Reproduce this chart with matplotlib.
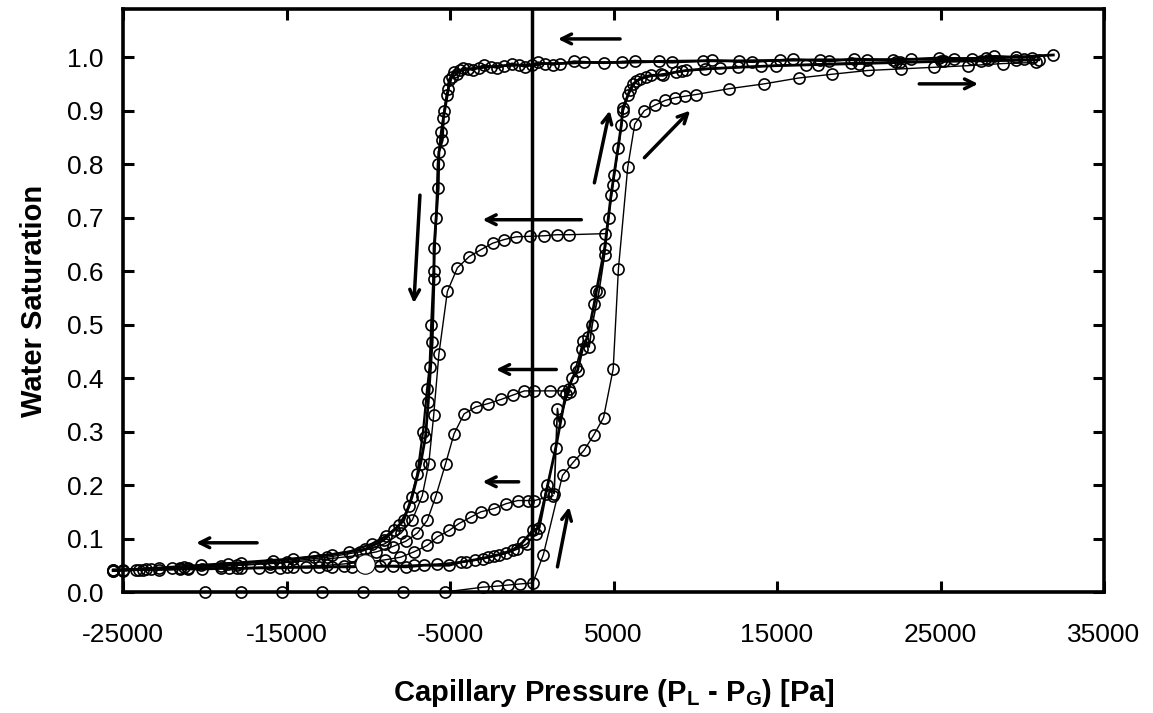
import matplotlib
matplotlib.use('Agg')
import matplotlib.pyplot as plt

plt.rcParams['font.family'] = ['Liberation Sans', 'DejaVu Sans']
plt.rcParams['mathtext.fontset'] = 'custom'
plt.rcParams['mathtext.bf'] = 'Liberation Sans:bold'
plt.rcParams['mathtext.rm'] = 'Liberation Sans'
plt.rcParams['axes.unicode_minus'] = False

#%% data
# primary imbibition, starting from the dry sample
x_imb0 = [-20000, -17800, -15300, -12800, -10300, -7900, -5300, -3000, -2100, -1450, -730, 70,
          710, 1880, 2550, 3200, 3780, 4390, 4980, 5300, 5870, 6300, 6890, 7520, 8160, 8750,
          9390, 10030, 12070, 14210, 16330, 18370, 20540, 22580, 24620, 26660, 28830, 30870]
y_imb0 = [0, 0, 0, 0, 0, 0, 0, 0.009, 0.011, 0.013, 0.015, 0.017,
          0.07, 0.218, 0.243, 0.265, 0.293, 0.326, 0.417, 0.604, 0.794, 0.875, 0.9, 0.91, 0.919, 0.924,
          0.927, 0.93, 0.941, 0.95, 0.961, 0.968, 0.975, 0.978, 0.981, 0.984, 0.988, 0.99]

# main drainage (two repeats)
x_dr1 = [31900, 29600, 27800, 25800, 23200, 20500, 17600, 15200, 12700, 10500, 7800, 5500, 3200,
         1700, 800, 0, -800, -1700, -2500, -3200, -3900, -4400, -4750, -5060, -5100, -5400, -5470,
         -5680, -5720, -5980, -5980, -6090, -6330, -6500, -6800, -7320, -7830, -8440, -9060, -10180,
         -12230, -14590, -17770, -20230, -22790, -25600]
y_dr1 = [1.004, 1.0, 0.998, 0.997, 0.996, 0.995, 0.995, 0.994, 0.993, 0.993, 0.992, 0.99, 0.99,
         0.988, 0.988, 0.985, 0.985, 0.984, 0.982, 0.98, 0.978, 0.975, 0.972, 0.957, 0.941, 0.887, 0.845,
         0.823, 0.755, 0.643, 0.585, 0.467, 0.355, 0.29, 0.24, 0.178, 0.134, 0.115, 0.097, 0.08,
         0.07, 0.062, 0.055, 0.05, 0.045, 0.04]
x_dr2 = [30600, 28300, 26900, 24900, 22100, 19700, 18200, 16000, 13500, 11000, 8600, 6300, 4400,
         2600, 1300, 400, -400, -1200, -2100, -2900, -3600, -4200, -4600, -4900, -5200, -5350, -5550,
         -5750, -5850, -6000, -6150, -6250, -6400, -6650, -7000, -7500, -8100, -8900, -9800, -11200,
         -13300, -15800, -18600, -21300, -23600, -25600]
y_dr2 = [0.999, 1.002, 0.997, 0.999, 0.994, 0.997, 0.992, 0.996, 0.991, 0.994, 0.99, 0.993, 0.989,
         0.992, 0.986, 0.99, 0.982, 0.988, 0.98, 0.985, 0.976, 0.98, 0.968, 0.962, 0.93, 0.9, 0.86,
         0.8, 0.7, 0.6, 0.5, 0.42, 0.38, 0.3, 0.22, 0.16, 0.125, 0.105, 0.09, 0.075,
         0.066, 0.058, 0.052, 0.047, 0.043, 0.042]

# main imbibition (two repeats)
x_imb1 = [-25600, -23800, -22800, -21500, -20200, -19000, -17800, -16700, -15400, -14600, -13000,
          -12200, -11000, -10200, -8500, -7700, -6600, -5060, -4340, -3500, -2700, -2000, -1170, -550,
          60, 450, 860, 1470, 2080, 2490, 2800, 3100, 3410, 3820, 3950, 4460, 4850, 5025, 5480, 5560,
          6000, 6200, 6630, 7270, 8040, 8800, 9440, 10590, 12630, 14920, 17500, 20000, 22500, 25000,
          27500, 29600, 31000]
y_imb1 = [0.04, 0.042, 0.042, 0.043, 0.043, 0.044, 0.044, 0.045, 0.045, 0.046, 0.046,
          0.047, 0.047, 0.048, 0.048, 0.047, 0.05, 0.05, 0.056, 0.06, 0.065, 0.07, 0.078, 0.093,
          0.115, 0.12, 0.184, 0.27, 0.37, 0.4, 0.414, 0.455, 0.477, 0.539, 0.562, 0.643, 0.742, 0.779, 0.873, 0.904,
          0.938, 0.95, 0.96, 0.966, 0.966, 0.972, 0.975, 0.978, 0.981, 0.984, 0.986, 0.988, 0.99, 0.992,
          0.993, 0.994, 0.995]
x_imb2 = [-25600, -24200, -23300, -21000, -18500, -16000, -13800, -11500, -9300, -7200, -5800, -4000,
          -3000, -2300, -1600, -900, -300, 245, 960, 1370, 1570, 1670, 2300, 2700, 3150, 3510, 3700,
          4100, 4450, 4700, 4950, 5300, 5600, 5900, 6400, 7000, 7900, 9200, 11500, 14000, 16800, 19500,
          22300, 25200, 27900, 30100]
y_imb2 = [0.041, 0.042, 0.043, 0.044, 0.045, 0.046, 0.047, 0.048, 0.049, 0.05, 0.052, 0.057,
          0.062, 0.067, 0.072, 0.08, 0.09, 0.109, 0.2, 0.184, 0.343, 0.318, 0.38, 0.42, 0.47, 0.458, 0.5,
          0.56, 0.63, 0.7, 0.76, 0.83, 0.9, 0.93, 0.955, 0.962, 0.968, 0.974, 0.979, 0.983, 0.986, 0.989,
          0.991, 0.992, 0.994, 0.996]

# drainage scanning curves from 0.67, 0.375 and 0.17
x_sc67 = [4460, 2300, 1530, 765, -130, -960, -1680, -2400, -3110, -3830, -4550, -5160, -5680,
          -6000, -6300, -6700, -7300, -8000, -9000, -10500, -12500, -15000, -18000, -21500, -25000]
y_sc67 = [0.67, 0.668, 0.668, 0.666, 0.665, 0.664, 0.659, 0.652, 0.64, 0.627, 0.606, 0.562, 0.445,
          0.33, 0.24, 0.18, 0.135, 0.11, 0.09, 0.075, 0.065, 0.057, 0.05, 0.045, 0.042]
x_sc37 = [2320, 1900, 1090, 160, -450, -1170, -1880, -2700, -3420, -4140, -4750, -5270, -5880,
          -6390, -7000, -7700, -8500, -9500, -11000, -13000, -16000, -19000, -22000, -25000]
y_sc37 = [0.374, 0.376, 0.376, 0.376, 0.376, 0.368, 0.36, 0.352, 0.346, 0.333, 0.296, 0.24, 0.178,
          0.134, 0.11, 0.095, 0.085, 0.075, 0.067, 0.06, 0.053, 0.048, 0.044, 0.04]
x_sc17 = [1300, 160, -250, -860, -1580, -2300, -3110, -3730, -4450, -5060, -5780, -6390, -7210,
          -8030, -9000, -10500, -12500, -15000, -18000, -21000, -24000]
y_sc17 = [0.18, 0.171, 0.171, 0.171, 0.165, 0.156, 0.15, 0.14, 0.128, 0.115, 0.103, 0.087, 0.075,
          0.065, 0.06, 0.055, 0.05, 0.047, 0.045, 0.043, 0.041]

start_pt = (-10200, 0.053)

# arrows: (x_tail, y_tail, x_head, y_head)
arrows = [(5400, 1.034, 1600, 1.034), (23700, 0.95, 27300, 0.95), (6890, 0.812, 9690, 0.9),
          (3830, 0.765, 4770, 0.9), (3030, 0.696, -3010, 0.696), (-6840, 0.742, -7210, 0.54),
          (1500, 0.416, -2190, 0.416), (-800, 0.206, -3010, 0.206), (-16800, 0.092, -20530, 0.092),
          (1570, 0.047, 2290, 0.159)]

#%% plot
fig = plt.figure(figsize=(11.53, 7.13), dpi=100)
ax = fig.add_axes([0.1067, 0.1697, 0.8508, 0.8177])

style = dict(color='black', marker='o', mfc='none', mec='black', ms=8, mew=1.2, clip_on=False)
ax.plot(x_imb0, y_imb0, lw=1.0, **style)
ax.plot(x_dr1, y_dr1, lw=2.0, **style)
ax.plot(x_dr2, y_dr2, lw=1.6, **style)
ax.plot(x_imb1, y_imb1, lw=2.0, **style)
ax.plot(x_imb2, y_imb2, lw=1.2, **style)
ax.plot(x_sc67, y_sc67, lw=1.0, **style)
ax.plot(x_sc37, y_sc37, lw=1.0, **style)
ax.plot(x_sc17, y_sc17, lw=1.0, **style)
ax.plot(*start_pt, 'o', ms=14, mfc='white', mec='black', mew=0.8, zorder=5)

ax.axvline(0, color='black', lw=2.5)

for x0, y0, x1, y1 in arrows:
    ax.annotate('', xy=(x1, y1), xytext=(x0, y0),
                arrowprops=dict(arrowstyle='->,head_length=0.7,head_width=0.35',
                                color='black', lw=2.5, shrinkA=0, shrinkB=0))

ax.set_xlim(-25000, 35000)
ax.set_ylim(0, 1.09)
ax.set_xticks(range(-25000, 35001, 10000))
ax.set_yticks([i / 10 for i in range(11)])
ax.set_yticklabels(['%.1f' % (i / 10) for i in range(11)])
ax.tick_params(direction='in', length=8, width=2.2, top=True, right=True, labelsize=19)
ax.tick_params(axis='x', pad=22)
ax.tick_params(axis='y', pad=14)
for s in ax.spines.values():
    s.set_linewidth(2.6)

ax.set_xlabel(r'Capillary Pressure (P$_{\mathbf{L}}$ - P$_{\mathbf{G}}$) [Pa]',
              fontsize=21, fontweight='bold', labelpad=22)
ax.set_ylabel('Water Saturation', fontsize=21, fontweight='bold', labelpad=14)

plt.savefig('out.png', dpi=100)
plt.close('all')
